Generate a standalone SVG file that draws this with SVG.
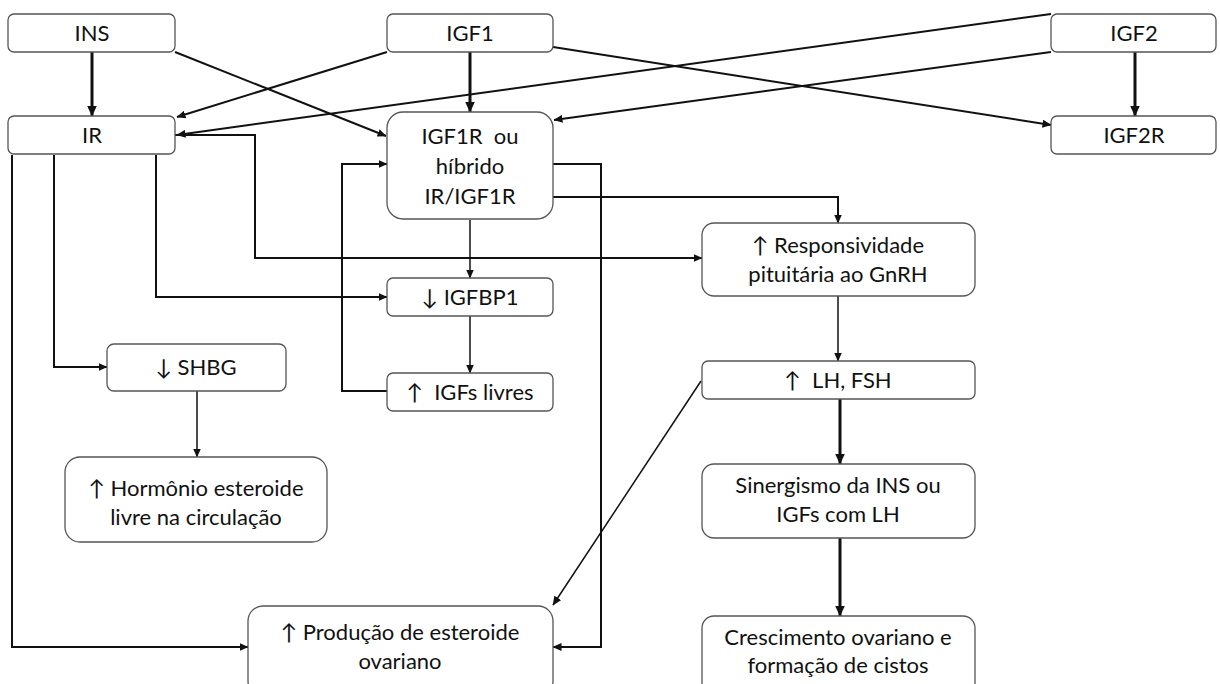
<svg xmlns="http://www.w3.org/2000/svg" width="1220" height="684" viewBox="0 0 1220 684">
<defs>
<marker id="a" markerUnits="userSpaceOnUse" markerWidth="9" markerHeight="8" refX="8.5" refY="4" orient="auto"><path d="M0,0 L9,4 L0,8 z" fill="#111"/></marker>
<marker id="ab" markerUnits="userSpaceOnUse" markerWidth="11" markerHeight="10" refX="10.5" refY="5" orient="auto"><path d="M0,0 L11,5 L0,10 z" fill="#111"/></marker>
<style>
.n rect{fill:#fff;stroke:#555;stroke-width:1.3}
.n text{font-family:Lato,"Open Sans",sans-serif;font-size:22px;fill:#111;text-anchor:middle}
.c path{fill:none;stroke:#111;stroke-width:2;marker-end:url(#a)}
.c path.t{stroke-width:3;marker-end:url(#ab)}
.c path.s{stroke-width:1.5}
</style>
</defs>
<rect width="1220" height="684" fill="#fff"/>
<g class="c" id="connectors">
<path class="t" d="M92,52 V116"/>
<path class="t" d="M470,52 V112"/>
<path class="t" d="M1135,52 V116"/>
<path d="M175,52 L386,136"/>
<path d="M387,52 L177,117"/>
<path d="M1051,14 L177,135"/>
<path d="M1051,52 L554,120"/>
<path d="M553,47 L1051,125"/>
<path d="M175,135 H255 V258 H702"/>
<path d="M156,155 V297 H387"/>
<path d="M54,155 V367 H107"/>
<path d="M12,155 V647 H248"/>
<path d="M387,391 H342 V164 H387"/>
<path d="M553,164 H601 V647 H553"/>
<path d="M553,197 H838 V223"/>
<path class="s" d="M470,220 V278"/>
<path class="s" d="M470,316 V373"/>
<path class="s" d="M197,391 V457"/>
<path class="s" d="M838,296 V361"/>
<path class="s" d="M701,381 L553,605"/>
<path class="t" d="M840,399 V464"/>
<path class="t" d="M840,538 V616"/>
</g>
<g class="n" id="ins"><rect x="8" y="14" width="167" height="38" rx="6"/><text x="92" y="41">INS</text></g>
<g class="n" id="igf1"><rect x="387" y="14" width="166" height="38" rx="6"/><text x="470" y="41">IGF1</text></g>
<g class="n" id="igf2"><rect x="1051" y="14" width="165" height="38" rx="6"/><text x="1134" y="41">IGF2</text></g>
<g class="n" id="ir"><rect x="8" y="116" width="167" height="38" rx="6"/><text x="92" y="143">IR</text></g>
<g class="n" id="igf2r"><rect x="1051" y="116" width="165" height="38" rx="6"/><text x="1134" y="143">IGF2R</text></g>
<g class="n" id="igf1r"><rect x="387" y="112" width="166" height="107" rx="16"/><text x="470" y="144" xml:space="preserve">IGF1R  ou</text><text x="470" y="174">híbrido</text><text x="470" y="204">IR/IGF1R</text></g>
<g class="n" id="resp"><rect x="702" y="223" width="273" height="73" rx="12"/><text x="838" y="253">↑ Responsividade</text><text x="838" y="282">pituitária ao GnRH</text></g>
<g class="n" id="igfbp1"><rect x="387" y="278" width="166" height="38" rx="6"/><text x="470" y="305">↓ IGFBP1</text></g>
<g class="n" id="shbg"><rect x="107" y="344" width="179" height="47" rx="7"/><text x="196" y="375">↓ SHBG</text></g>
<g class="n" id="igfs"><rect x="387" y="373" width="166" height="38" rx="6"/><text x="470" y="400" xml:space="preserve">↑  IGFs livres</text></g>
<g class="n" id="lhfsh"><rect x="702" y="361" width="273" height="38" rx="6"/><text x="838" y="388" xml:space="preserve">↑  LH, FSH</text></g>
<g class="n" id="horm"><rect x="65" y="457" width="262" height="85" rx="15"/><text x="196" y="496">↑ Hormônio esteroide</text><text x="196" y="525">livre na circulação</text></g>
<g class="n" id="sin"><rect x="702" y="464" width="273" height="74" rx="12"/><text x="838" y="493">Sinergismo da INS ou</text><text x="838" y="522">IGFs com LH</text></g>
<g class="n" id="prod"><rect x="248" y="606" width="305" height="90" rx="15"/><text x="400" y="640">↑ Produção de esteroide</text><text x="400" y="669">ovariano</text></g>
<g class="n" id="cresc"><rect x="702" y="616" width="273" height="80" rx="12"/><text x="838" y="645">Crescimento ovariano e</text><text x="838" y="673">formação de cistos</text></g>
</svg>
